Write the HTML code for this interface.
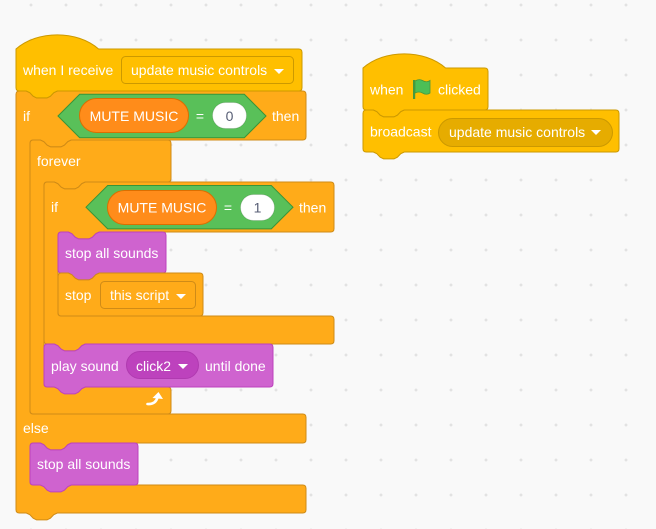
<!DOCTYPE html>
<html><head><meta charset="utf-8"><style>
html,body{margin:0;padding:0;background:#f9f9f9;}
svg{display:block;}
text{font-family:"Liberation Sans",Arial,sans-serif;font-size:14px;fill:#fff;}
.in{fill:#575e75;}
</style></head><body>
<svg width="656" height="529" viewBox="0 0 656 529" xmlns="http://www.w3.org/2000/svg">
<defs>
<pattern id="g" x="13.5" y="-12.5" width="35" height="35" patternUnits="userSpaceOnUse">
<path d="M16,17.5 H19 M17.5,16 V19" stroke="#dadada" stroke-width="1"/>
</pattern>
</defs>
<rect width="656" height="529" fill="#f9f9f9"/>
<rect width="656" height="529" fill="url(#g)"/>

<!-- if-else -->
<path fill="#FFAB19" stroke="#CF8B17" d="M 16,94.4 Q 16,91 19.4,91 H 26.3 L 29.8,92.7 L 33.2,96.2 L 36.6,97.9 L 47,97.9 L 50.4,96.2 L 53.8,92.7 L 57.3,91 H 302.6 Q 306,91 306,94.4 V 136.6 Q 306,140 302.6,140 H 71.3 L 67.8,141.7 L 64.4,145.2 L 61,146.9 L 50.6,146.9 L 47.2,145.2 L 43.8,141.7 L 40.3,140 H 33.4 Q 30,140 30,143.4 V 410.6 Q 30,414 33.4,414 H 302.6 Q 306,414 306,417.4 V 439.6 Q 306,443 302.6,443 H 71.3 L 67.8,444.7 L 64.4,448.2 L 61,449.9 L 50.6,449.9 L 47.2,448.2 L 43.8,444.7 L 40.3,443 H 33.4 Q 30,443 30,446.4 V 481.6 Q 30,485 33.4,485 H 302.6 Q 306,485 306,488.4 V 509.6 Q 306,513 302.6,513 H 57.3 L 53.8,514.7 L 50.4,518.2 L 47,519.9 L 36.6,519.9 L 33.2,518.2 L 29.8,514.7 L 26.3,513 H 19.4 Q 16,513 16,509.6 Z"/>

<!-- hat when I receive -->
<path fill="#FFBF00" stroke="#CC9900" d="M 16,49 C 37.5,30.1 77,30.1 98.6,49 H 298.6 Q 302,49 302,52.4 V 87.6 Q 302,91 298.6,91 H 57.3 L 53.8,92.7 L 50.4,96.2 L 47,97.9 L 36.6,97.9 L 33.2,96.2 L 29.8,92.7 L 26.3,91 H 19.4 Q 16,91 16,87.6 Z"/>
<text x="23" y="75">when I receive</text>
<rect x="121.5" y="56.5" width="172" height="27" rx="4" fill="#FFBF00" stroke="#CC9900"/>
<text x="131" y="75">update music controls</text>
<polygon points="274,69 284,69 279,74" fill="#fff"/>

<!-- if row -->
<text x="23" y="121">if</text>
<polygon points="58,116 79.7,94.3 244.3,94.3 266,116 244.3,137.7 79.7,137.7" fill="#59C059" stroke="#389438"/>
<rect x="79.5" y="98.5" width="109" height="34" rx="17" fill="#FF8C1A" stroke="#DB6E00"/>
<text x="134" y="121" text-anchor="middle">MUTE MUSIC</text>
<text x="200" y="121" text-anchor="middle">=</text>
<rect x="212.5" y="102.5" width="34" height="26" rx="13" fill="#fff" stroke="rgba(0,0,0,0.12)"/>
<text class="in" x="229.5" y="121" text-anchor="middle">0</text>
<text x="272" y="121">then</text>
<text x="23" y="433">else</text>

<!-- forever -->
<path fill="#FFAB19" stroke="#CF8B17" d="M 30,143.4 Q 30,140 33.4,140 H 40.3 L 43.8,141.7 L 47.2,145.2 L 50.6,146.9 L 61,146.9 L 64.4,145.2 L 67.8,141.7 L 71.3,140 H 167.6 Q 171,140 171,143.4 V 178.6 Q 171,182 167.6,182 H 85.3 L 81.8,183.7 L 78.4,187.2 L 75,188.9 L 64.6,188.9 L 61.2,187.2 L 57.8,183.7 L 54.3,182 H 47.4 Q 44,182 44,185.4 V 383.6 Q 44,387 47.4,387 H 167.6 Q 171,387 171,390.4 V 410.6 Q 171,414 167.6,414 H 33.4 Q 30,414 30,410.6 Z"/>
<text x="37" y="166">forever</text>
<path d="M 147.5,404 Q 155.5,404.5 157.5,397.5" fill="none" stroke="#fff" stroke-width="2.6" stroke-linecap="round"/>
<polygon points="152.5,398 158.5,392 163,399" fill="#fff"/>

<!-- inner if -->
<path fill="#FFAB19" stroke="#CF8B17" d="M 44,185.4 Q 44,182 47.4,182 H 54.3 L 57.8,183.7 L 61.2,187.2 L 64.6,188.9 L 75,188.9 L 78.4,187.2 L 81.8,183.7 L 85.3,182 H 330.6 Q 334,182 334,185.4 V 228.6 Q 334,232 330.6,232 H 99.3 L 95.8,233.7 L 92.4,237.2 L 89,238.9 L 78.6,238.9 L 75.2,237.2 L 71.8,233.7 L 68.3,232 H 61.4 Q 58,232 58,235.4 V 312.6 Q 58,316 61.4,316 H 330.6 Q 334,316 334,319.4 V 340.6 Q 334,344 330.6,344 H 85.3 L 81.8,345.7 L 78.4,349.2 L 75,350.9 L 64.6,350.9 L 61.2,349.2 L 57.8,345.7 L 54.3,344 H 47.4 Q 44,344 44,340.6 Z"/>
<text x="51" y="212">if</text>
<polygon points="86,207.2 107.7,185.5 271.3,185.5 293,207.2 271.3,228.9 107.7,228.9" fill="#59C059" stroke="#389438"/>
<rect x="107.5" y="190.5" width="109" height="34" rx="17" fill="#FF8C1A" stroke="#DB6E00"/>
<text x="162" y="212.5" text-anchor="middle">MUTE MUSIC</text>
<text x="228" y="212.5" text-anchor="middle">=</text>
<rect x="240.5" y="194.5" width="34" height="26" rx="13" fill="#fff" stroke="rgba(0,0,0,0.12)"/>
<text class="in" x="257.5" y="212.5" text-anchor="middle">1</text>
<text x="299" y="212.5">then</text>

<!-- stop all sounds 1 -->
<path fill="#CF63CF" stroke="#BD42BD" d="M 58,235.4 Q 58,232 61.4,232 H 68.3 L 71.8,233.7 L 75.2,237.2 L 78.6,238.9 L 89,238.9 L 92.4,237.2 L 95.8,233.7 L 99.3,232 H 162.6 Q 166,232 166,235.4 V 269.6 Q 166,273 162.6,273 H 99.3 L 95.8,274.7 L 92.4,278.2 L 89,279.9 L 78.6,279.9 L 75.2,278.2 L 71.8,274.7 L 68.3,273 H 61.4 Q 58,273 58,269.6 Z"/>
<text x="65" y="258">stop all sounds</text>

<!-- stop this script -->
<path fill="#FFAB19" stroke="#CF8B17" d="M 58,276.4 Q 58,273 61.4,273 H 68.3 L 71.8,274.7 L 75.2,278.2 L 78.6,279.9 L 89,279.9 L 92.4,278.2 L 95.8,274.7 L 99.3,273 H 199.6 Q 203,273 203,276.4 V 312.6 Q 203,316 199.6,316 H 61.4 Q 58,316 58,312.6 Z"/>
<text x="65" y="300">stop</text>
<rect x="100.5" y="281.5" width="95" height="27" rx="4" fill="#FFAB19" stroke="#CF8B17"/>
<text x="110" y="300">this script</text>
<polygon points="176,294 186,294 181,299" fill="#fff"/>

<!-- play sound -->
<path fill="#CF63CF" stroke="#BD42BD" d="M 44,347.4 Q 44,344 47.4,344 H 54.3 L 57.8,345.7 L 61.2,349.2 L 64.6,350.9 L 75,350.9 L 78.4,349.2 L 81.8,345.7 L 85.3,344 H 269.6 Q 273,344 273,347.4 V 383.6 Q 273,387 269.6,387 H 85.3 L 81.8,388.7 L 78.4,392.2 L 75,393.9 L 64.6,393.9 L 61.2,392.2 L 57.8,388.7 L 54.3,387 H 47.4 Q 44,387 44,383.6 Z"/>
<text x="51" y="371">play sound</text>
<rect x="126.5" y="351.5" width="72" height="27" rx="13.5" fill="#BD42BD" stroke="#B03BB0"/>
<text x="136" y="371">click2</text>
<polygon points="178,364 188,364 183,369" fill="#fff"/>
<text x="205" y="371">until done</text>

<!-- stop all sounds 2 -->
<path fill="#CF63CF" stroke="#BD42BD" d="M 30,446.4 Q 30,443 33.4,443 H 40.3 L 43.8,444.7 L 47.2,448.2 L 50.6,449.9 L 61,449.9 L 64.4,448.2 L 67.8,444.7 L 71.3,443 H 134.6 Q 138,443 138,446.4 V 481.6 Q 138,485 134.6,485 H 71.3 L 67.8,486.7 L 64.4,490.2 L 61,491.9 L 50.6,491.9 L 47.2,490.2 L 43.8,486.7 L 40.3,485 H 33.4 Q 30,485 30,481.6 Z"/>
<text x="37" y="469">stop all sounds</text>

<!-- when flag clicked -->
<path fill="#FFBF00" stroke="#CC9900" d="M 363,68 C 384.5,49.1 424,49.1 445.6,68 H 484.6 Q 488,68 488,71.4 V 106.6 Q 488,110 484.6,110 H 404.3 L 400.8,111.7 L 397.4,115.2 L 394,116.9 L 383.6,116.9 L 380.2,115.2 L 376.8,111.7 L 373.3,110 H 366.4 Q 363,110 363,106.6 Z"/>
<text x="370" y="94.5">when</text>
<rect x="413" y="80" width="2.2" height="19" fill="#45993D"/>
<path d="M 415,81 Q 419,78.5 422.5,80.5 Q 426.5,83 430,80.5 V 93 Q 426.5,95.5 422.5,93 Q 419,91 415,93 Z" fill="#4CBF56" stroke="#45993D" stroke-width="0.8"/>
<text x="438" y="94.5">clicked</text>

<!-- broadcast -->
<path fill="#FFBF00" stroke="#CC9900" d="M 363,113.4 Q 363,110 366.4,110 H 373.3 L 376.8,111.7 L 380.2,115.2 L 383.6,116.9 L 394,116.9 L 397.4,115.2 L 400.8,111.7 L 404.3,110 H 615.6 Q 619,110 619,113.4 V 148.6 Q 619,152 615.6,152 H 404.3 L 400.8,153.7 L 397.4,157.2 L 394,158.9 L 383.6,158.9 L 380.2,157.2 L 376.8,153.7 L 373.3,152 H 366.4 Q 363,152 363,148.6 Z"/>
<text x="370" y="136.5">broadcast</text>
<rect x="438.5" y="118.5" width="174" height="28" rx="14" fill="#E6AC00" stroke="#CC9900"/>
<text x="449" y="137">update music controls</text>
<polygon points="591,130 601,130 596,135" fill="#fff"/>
</svg>
</body></html>
